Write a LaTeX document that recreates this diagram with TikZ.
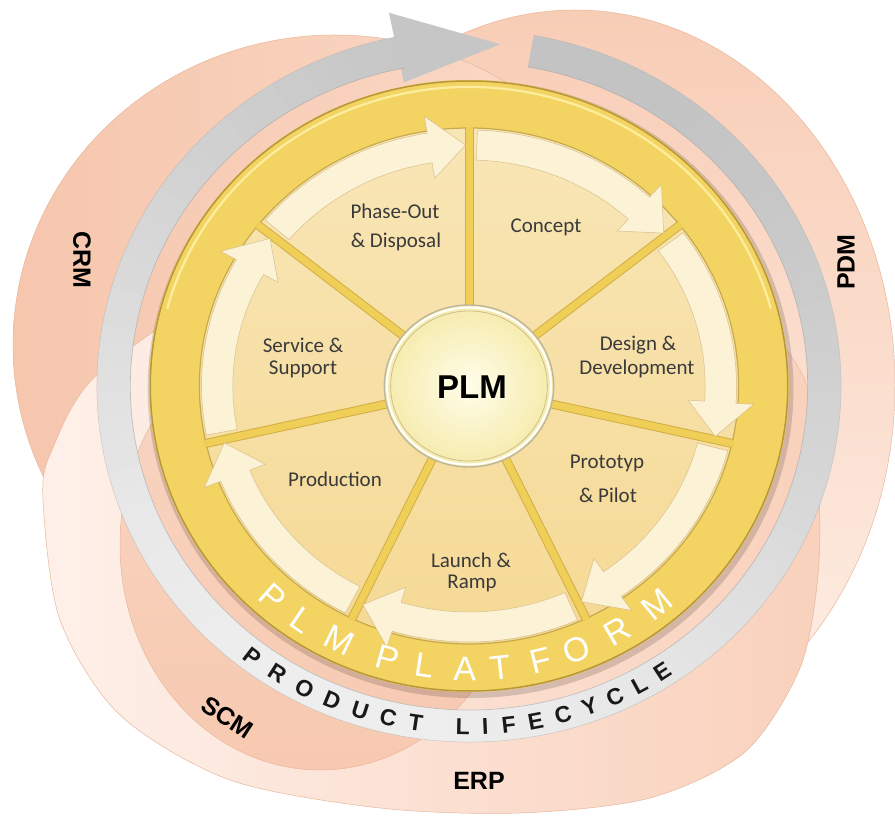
\documentclass[tikz,border=0pt]{standalone}
\usepackage{fontspec}
\setmainfont{Carlito}
\newfontfamily\arialf{Liberation Sans}
\begin{document}
\begin{tikzpicture}[x=1pt,y=1pt]
\definecolor{pdmT}{HTML}{F8CDB6}\definecolor{pdmB}{HTML}{FEF0E8}
\definecolor{crmL}{HTML}{F6C6AD}\definecolor{crmR}{HTML}{FBDCCB}
\definecolor{erpL}{HTML}{FEF0E9}\definecolor{erpR}{HTML}{F9D1BC}
\definecolor{scmT}{HTML}{F9D6C4}\definecolor{scmB}{HTML}{F7C9B0}
\definecolor{edgeS}{HTML}{E7B79C}
\definecolor{gD}{HTML}{C3C3C3}\definecolor{gL}{HTML}{EEEEEE}
\definecolor{goldR}{HTML}{F3D462}\definecolor{goldEdge}{HTML}{B8963A}
\definecolor{goldHi}{HTML}{FCEE9E}\definecolor{goldIn}{HTML}{C7A94E}
\definecolor{secT}{HTML}{F9E6B6}\definecolor{secB}{HTML}{F5D995}
\definecolor{bandC}{HTML}{FCF2D6}\definecolor{bandE}{HTML}{D6C08C}
\definecolor{spokeC}{HTML}{F0CF58}\definecolor{spokeE}{HTML}{D1AF44}
\definecolor{cIn}{HTML}{FFFDEA}\definecolor{cOut}{HTML}{F6EBAC}
\definecolor{cEdge}{HTML}{BDB69A}\definecolor{cRing}{HTML}{CDBE8C}
\definecolor{txtc}{HTML}{3A3A3A}
\tikzset{
  lbl/.style={font=\fontsize{21}{24}\selectfont, text=txtc, inner sep=0pt},
  sysl/.style={font=\arialf\bfseries\fontsize{25}{25}\selectfont, text=black, inner sep=0pt},
  plf/.style={font=\arialf\fontsize{34}{34}\selectfont, text=white, inner sep=0pt},
  lcf/.style={font=\arialf\bfseries\fontsize{23}{23}\selectfont, text=black!90, inner sep=0pt},
  spoke/.style={draw=spokeE, line width=1, double=spokeC, double distance=7},
  bandshape/.style={fill=bandC, draw=bandE, line width=0.5},
}
\useasboundingbox (0,0) rectangle (895,815);
\fill[white] (0,0) rectangle (895,815);

% background system ellipses
\shadedraw[top color=pdmT, bottom color=pdmB, draw=edgeS, line width=0.5] (575,430) ellipse[x radius=320, y radius=375];
\shadedraw[left color=crmL, right color=crmR, draw=edgeS, line width=0.5] (335,470) ellipse[x radius=322, y radius=310];
\shadedraw[left color=erpL, right color=erpR, draw=edgeS, line width=0.5] plot[smooth cycle] coordinates {(43,315) (52,365) (100,443) (250,535) (469,565) (700,535) (800,445) (818,335) (818,240) (800,147) (745,63) (650,17) (520,2) (380,7) (230,35) (120,100) (60,195)};
\shadedraw[top color=scmT, bottom color=scmB, draw=edgeS, line width=0.5] (320,270) ellipse[x radius=200, y radius=225];

\begin{scope}[shift={(469,429)}, xscale=1.045]
  % gray lifecycle ring
  \foreach \a in {80,77,...,-256} {
    \pgfmathsetmacro\b{max(\a-3.4,-259)}
    \pgfmathtruncatemacro\p{100*(1-cos(\a-250))/2}
    \fill[gD!\p!gL] (\a:324) arc[start angle=\a, end angle=\b, radius=324] -- (\b:356) arc[start angle=\b, end angle=\a, radius=356] -- cycle;
  }
  \fill[gD!93!gL] (101.6:310) -- (85:343) -- (101.6:381) -- cycle;
  \draw[black!30, line width=0.5, opacity=0.6] (80:356) arc[start angle=80, end angle=-259, radius=356];
  \draw[black!35, line width=0.7, opacity=0.6] (80:324) arc[start angle=80, end angle=-259, radius=324];

  % gold platform disc
  \fill[black, opacity=0.15] (1.5,-3) circle[radius=309];
  \fill[goldR] (0,0) circle[radius=306];
  \draw[goldEdge, line width=1.5] (0,0) circle[radius=305];
  \draw[goldHi, line width=2.2] (165:299) arc[start angle=165, end angle=15, radius=299];
  \shade[top color=secT, bottom color=secB] (0,0) circle[radius=258];
  \draw[goldIn, line width=1.2] (0,0) circle[radius=258];

  % spokes
  \foreach \k in {0,...,6} {
    \pgfmathsetmacro\sp{90-51.4286*\k}
    \draw[spoke] (\sp:78) -- (\sp:259);
  }
  % sector arrows
  \foreach \k in {0,...,6} {
    \pgfmathsetmacro\sa{90-51.4286*\k-1.8}
    \pgfmathsetmacro\ea{90-51.4286*(\k+1)}
    \pgfmathsetmacro\ba{\ea+9}
    \pgfmathsetmacro\ta{\ea+0.8}
    \path[bandshape] (\sa:226) arc[start angle=\sa, end angle=\ba, radius=226] -- (\ba:210) -- (\ta:241) -- (\ba:273) -- (\ba:256) arc[start angle=\ba, end angle=\sa, radius=256] -- cycle;
  }

  % center circle
  \shade[inner color=cIn, outer color=cOut] (0,0) circle[radius=81];
  \draw[cEdge, line width=1.4] (0,0) circle[radius=81];
  \draw[white, line width=2] (0,0) circle[radius=78.5];
  \draw[cRing, line width=0.8] (0,0) circle[radius=75];

  % PLM PLATFORM
  \foreach \ang/\ch [count=\i] in {228.3/P, 235.7/L, 244/M, 254.1/P, 261.4/L, 269.2/A, 276.1/T, 284.1/F, 291.4/O, 300.1/R, 309.4/M} {
    \node[plf, rotate=\ang+90] (pl\i) at (\ang:283) {\ch};
  }
  % PRODUCT LIFECYCLE
  \foreach \ang/\ch [count=\i] in {232.5/P, 237.5/R, 242.5/O, 247.4/D, 252.2/U, 256.9/C, 261.4/T, 269.0/L, 272.6/I, 276.4/F, 280.8/E, 285.3/C, 289.8/Y, 294.2/C, 298.6/L, 303.0/E} {
    \node[lcf, rotate=\ang+90] (lc\i) at (\ang:341) {\ch};
  }
\end{scope}

% sector labels
\node[lbl] (po1) at (395,604) {Phase-Out};
\node[lbl] (po2) at (396,573) {\& Disposal};
\node[lbl] (con) at (546,588) {Concept};
\node[lbl] (dd1) at (638,470) {Design \&};
\node[lbl] (dd2) at (637,446) {Development};
\node[lbl] (pp1) at (607,352) {Prototyp};
\node[lbl] (pp2) at (608,320) {\& Pilot};
\node[lbl] (lr1) at (471,255) {Launch \&};
\node[lbl] (lr2) at (472,232) {Ramp};
\node[lbl] (prd) at (335,336) {Production};
\node[lbl] (ss1) at (303,470) {Service \&};
\node[lbl] (ss2) at (303,446) {Support};
\node[font=\arialf\bfseries\fontsize{33}{33}\selectfont, inner sep=0pt] (plm) at (472,428) {PLM};

% system labels
\node[sysl, rotate=-90] (crm) at (82,555) {CRM};
\node[sysl, rotate=90] (pdm) at (846,553) {PDM};
\node[sysl, rotate=-33] (scm) at (227,98) {SCM};
\node[sysl] (erp) at (479,34) {ERP};
\end{tikzpicture}
\end{document}
